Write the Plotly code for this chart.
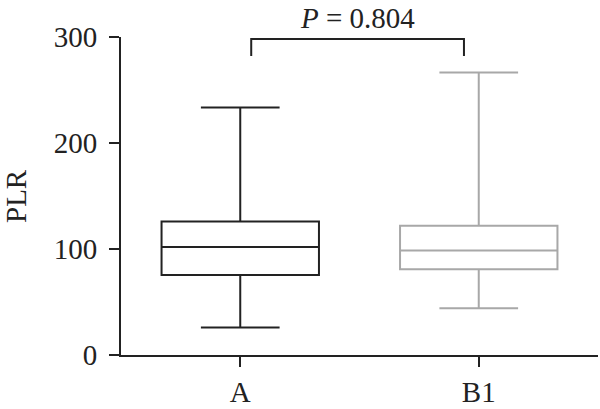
import plotly.graph_objects as go

categories = ["A", "B1"]
lower_whisker = [26, 44]
q1 = [75.5, 81]
median = [102, 98.7]
q3 = [126, 122]
upper_whisker = [233.6, 266.6]
line_colors = ["#222222", "#a8a8a8"]

y_ticks = [0, 100, 200, 300]
y_title = "PLR"
p_text = "<i>P</i> = 0.804"
bracket_y = 298
bracket_drop = 16

font_family = "Liberation Serif, Times New Roman, serif"
fsize = 29
margin_l = 121

fig = go.Figure()
for i, c in enumerate(categories):
    fig.add_trace(go.Box(
        x=[c], q1=[q1[i]], median=[median[i]], q3=[q3[i]],
        lowerfence=[lower_whisker[i]], upperfence=[upper_whisker[i]],
        width=0.66, whiskerwidth=0.5,
        line=dict(color=line_colors[i], width=2),
        fillcolor="rgba(0,0,0,0)",
        boxpoints=False, showlegend=False, hoverinfo="skip",
    ))

# significance bracket between categories (category index coordinates)
x0 = 0 + 0.046
x1 = 1 - 0.062
fig.add_shape(type="path",
              path=f"M {x0},{bracket_y - bracket_drop} L {x0},{bracket_y} L {x1},{bracket_y} L {x1},{bracket_y - bracket_drop}",
              xref="x", yref="y", line=dict(color="#222222", width=2))
fig.add_annotation(x=(x0 + x1) / 2, y=bracket_y, xref="x", yref="y",
                   text=p_text, showarrow=False, yanchor="bottom", yshift=3,
                   font=dict(family=font_family, size=fsize, color="#222222"))
# y-axis title
fig.add_annotation(x=0, y=0.5, xref="paper", yref="paper", text=y_title,
                   showarrow=False, textangle=-90, xanchor="center", yanchor="middle",
                   xshift=-(margin_l - 16),
                   font=dict(family=font_family, size=fsize, color="#222222"))

fig.update_layout(
    width=600, height=409,
    margin=dict(l=margin_l, r=2, t=37, b=54),
    paper_bgcolor="white", plot_bgcolor="white",
    font=dict(family=font_family, size=fsize, color="#222222"),
)
fig.update_xaxes(
    type="category", range=[-0.5, 1.5], automargin=False,
    showline=True, linecolor="#222222", linewidth=2,
    ticks="outside", ticklen=10, tickwidth=2, tickcolor="#222222",
    showgrid=False, zeroline=False,
    tickfont=dict(family=font_family, size=fsize),
)
fig.update_yaxes(
    range=[0, 300], tickvals=y_ticks, automargin=False,
    showline=True, linecolor="#222222", linewidth=2,
    ticks="outside", ticklen=10, tickwidth=2, tickcolor="#222222",
    showgrid=False, zeroline=False,
    tickfont=dict(family=font_family, size=fsize),
    ticklabelstandoff=6,
)

fig.write_html("out.html", config={"displayModeBar": False},
               post_script="document.body.style.margin='0px';document.body.style.overflow='hidden';")
